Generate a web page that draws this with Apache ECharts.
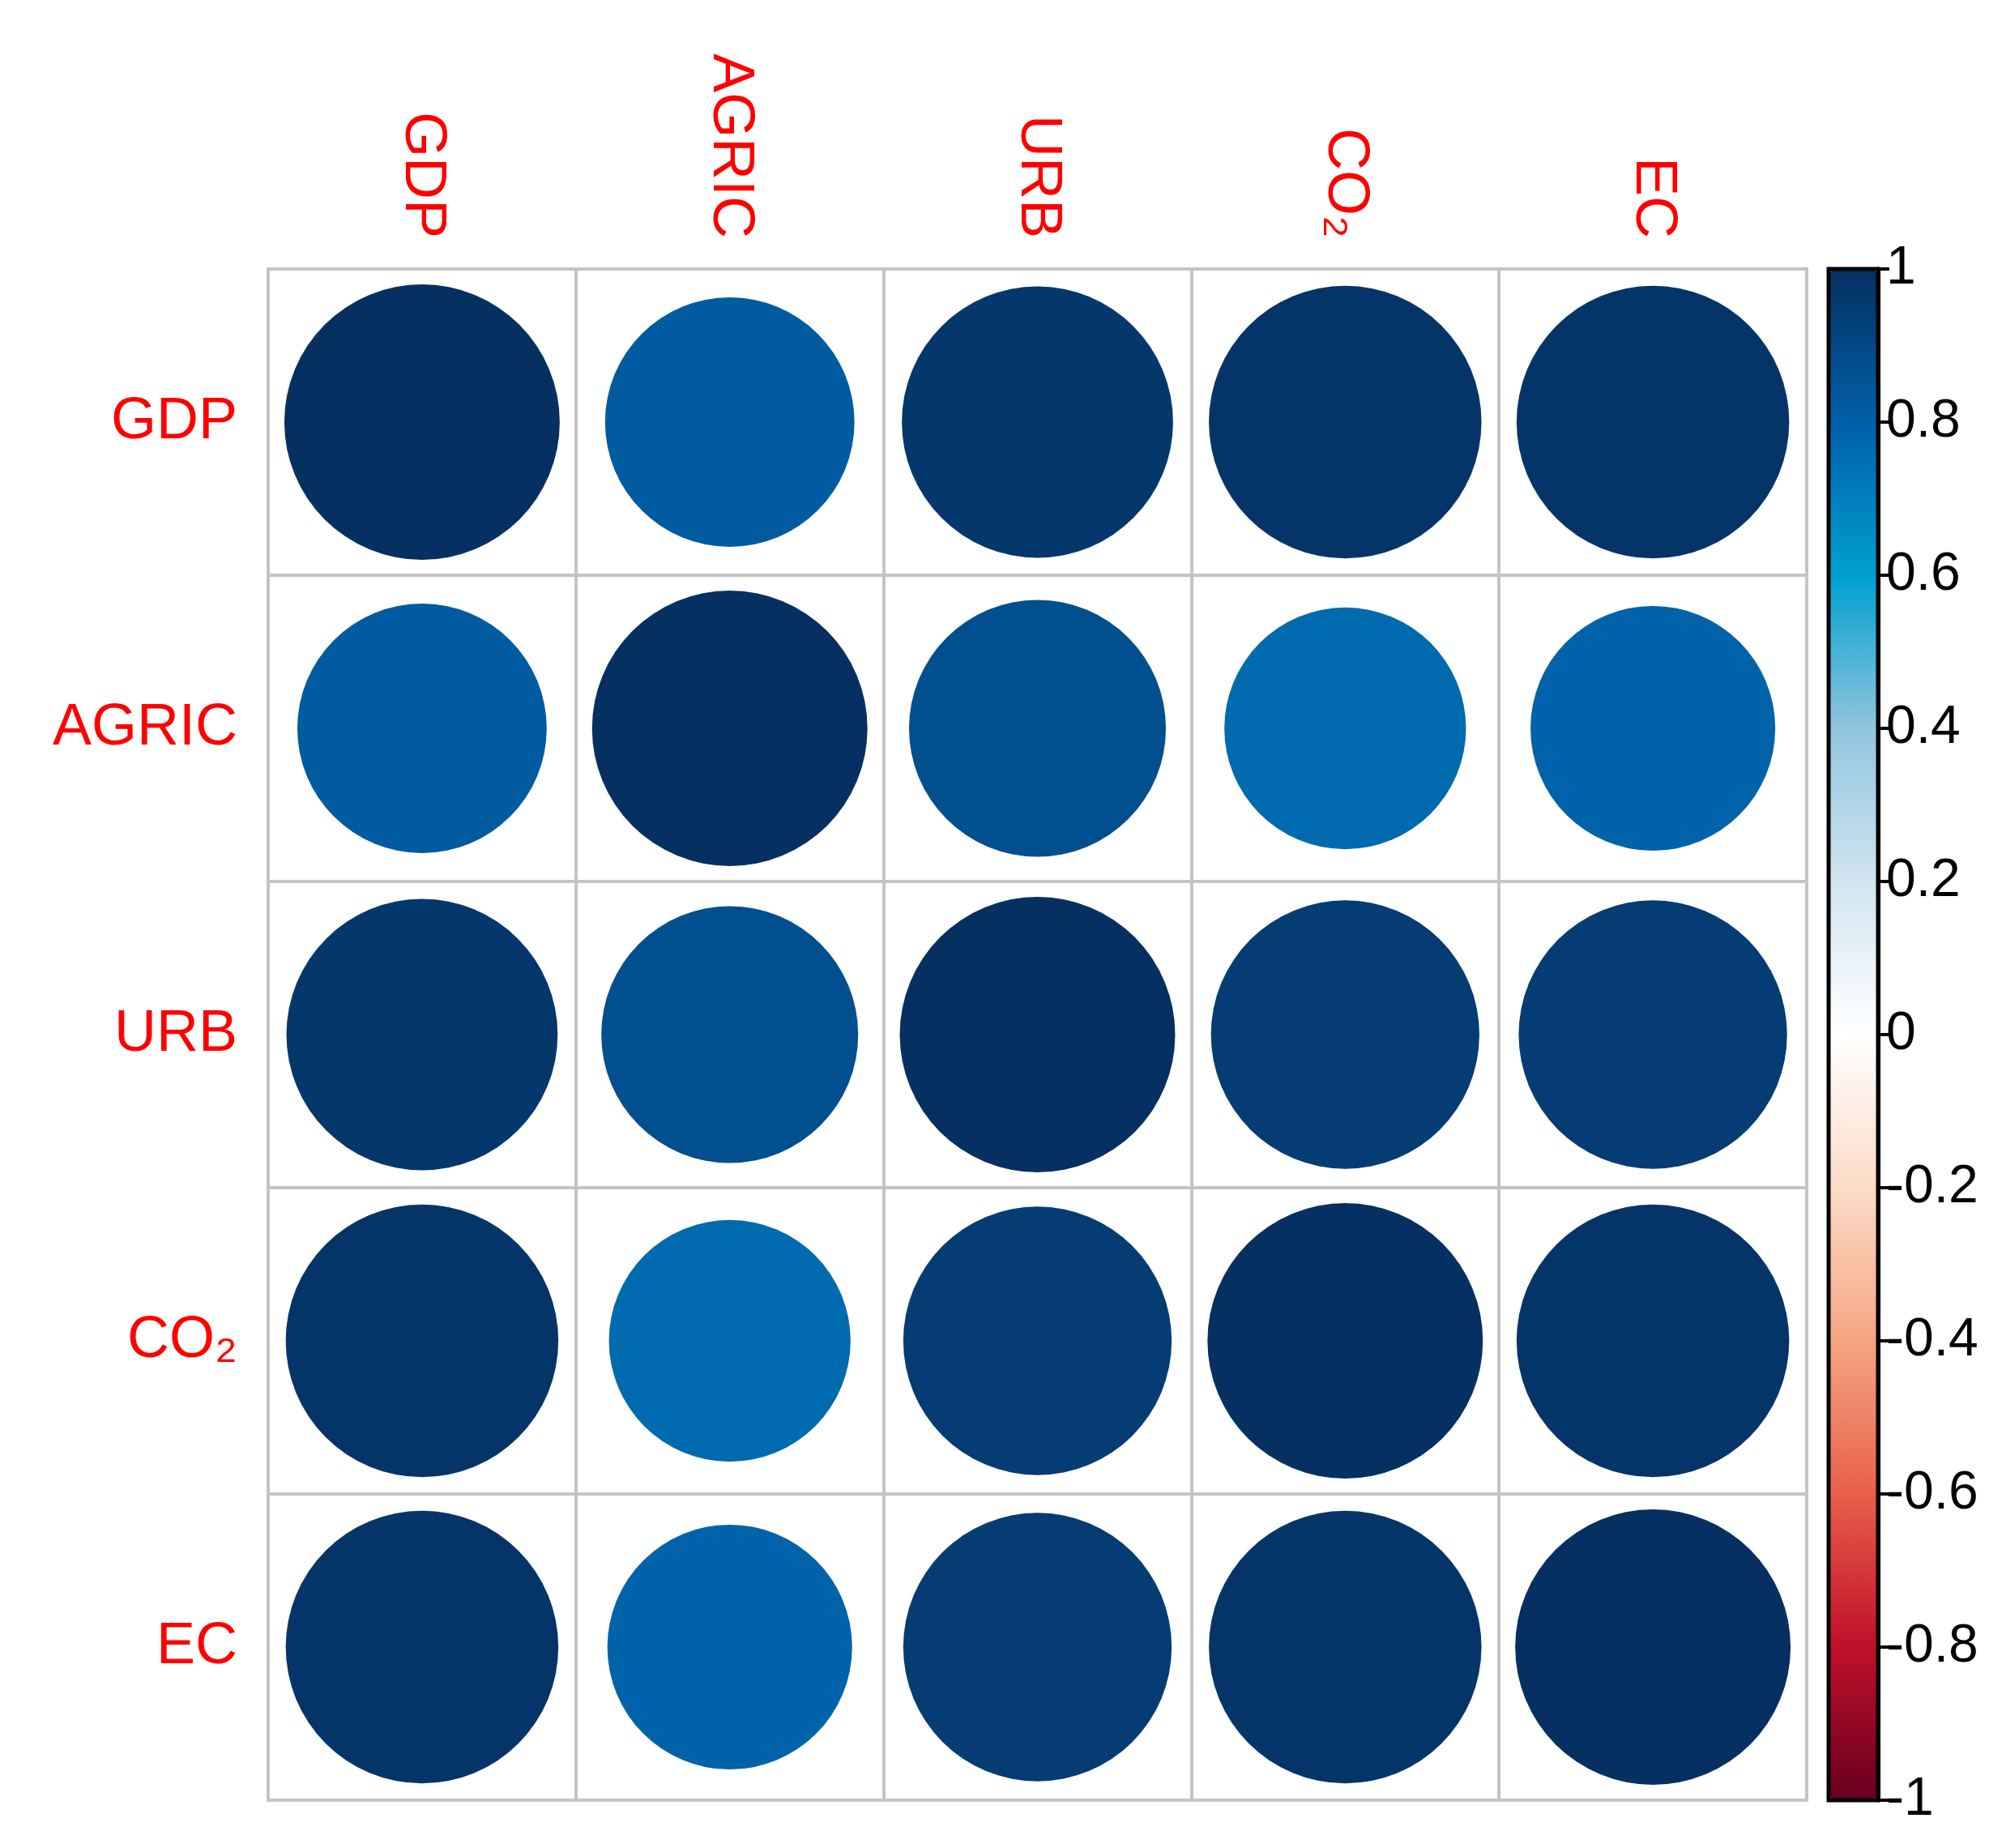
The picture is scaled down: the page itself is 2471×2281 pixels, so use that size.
<!DOCTYPE html>
<html><head><meta charset="utf-8">
<script src="https://cdn.jsdelivr.net/npm/echarts@6/dist/echarts.min.js"></script>
<style>html,body{margin:0;padding:0;background:#fff}#c{width:2471px;height:2281px}</style>
</head><body><div id="c"></div>
<script>
const variables = ['GDP', 'AGRIC', 'URB', 'CO₂', 'EC'];
const corrGDP   = [1.00, 0.82, 0.97, 0.98, 0.98];
const corrAGRIC = [0.82, 1.00, 0.87, 0.77, 0.79];
const corrURB   = [0.97, 0.87, 1.00, 0.95, 0.95];
const corrCO2   = [0.98, 0.77, 0.95, 1.00, 0.98];
const corrEC    = [0.98, 0.79, 0.95, 0.98, 1.00];
const colorbarTicks = [-1, -0.8, -0.6, -0.4, -0.2, 0, 0.2, 0.4, 0.6, 0.8, 1];

const rows = [corrGDP, corrAGRIC, corrURB, corrCO2, corrEC];
const data = [];
rows.forEach((row, i) => row.forEach((v, j) => data.push([j, i, v])));
const cellPx = (2230 - 331) / 5;
const fullDiam = cellPx * 0.895;

const chart = echarts.init(document.getElementById('c'));
chart.setOption({
  backgroundColor: '#fff',
  animation: false,
  grid: [
    {left: 331, right: 241, top: 332, bottom: 59, show: true, borderColor: '#c4c4c4', borderWidth: 4, z: 0},
    {left: 2257, width: 61, top: 332, bottom: 59, show: true, borderColor: '#000', borderWidth: 5, z: 5}
  ],
  xAxis: [
    {type: 'category', data: variables, position: 'top', gridIndex: 0,
     axisLine: {show: false}, axisTick: {show: false},
     splitLine: {show: true, lineStyle: {color: '#c4c4c4', width: 4}},
     axisLabel: {rotate: 90, color: '#ff0000', fontSize: 72, fontFamily: 'Liberation Sans, Arial', margin: 38}},
    {type: 'category', data: [''], gridIndex: 1, show: false}
  ],
  yAxis: [
    {type: 'category', data: variables, inverse: true, gridIndex: 0,
     axisLine: {show: false}, axisTick: {show: false},
     splitLine: {show: true, lineStyle: {color: '#c4c4c4', width: 4}},
     axisLabel: {color: '#ff0000', fontSize: 72, fontFamily: 'Liberation Sans, Arial', margin: 38}},
    {type: 'value', gridIndex: 1, position: 'right', min: -1, max: 1, interval: 0.2,
     splitLine: {show: false},
     axisLine: {show: true, lineStyle: {color: '#000', width: 5}},
     axisTick: {show: true, length: 14, lineStyle: {color: '#000', width: 4}},
     axisLabel: {color: '#000', fontSize: 66, fontFamily: 'Liberation Sans, Arial', margin: 10,
       formatter: v => String(Math.round(v * 10) / 10)}}
  ],
  visualMap: {
    type: 'continuous', min: -1, max: 1, seriesIndex: 0, calculable: false,
    orient: 'vertical', left: 2259, top: 334, itemWidth: 57, itemHeight: 1886,
    text: ['', ''], padding: 0, showLabel: false, hoverLink: false,
    inRange: {color: ['#67001F', '#C0102A', '#E8604A', '#F4A582', '#FDDBC7', '#FFFFFF', '#D1E5F0', '#92C5DE', '#00A0CF', '#0060A8', '#053061']}
  },
  series: [{
    type: 'scatter', xAxisIndex: 0, yAxisIndex: 0, data: data,
    symbol: 'circle',
    symbolSize: d => fullDiam * Math.sqrt(Math.abs(d[2])),
    itemStyle: {opacity: 1}, z: 3
  }]
});
</script></body></html>
